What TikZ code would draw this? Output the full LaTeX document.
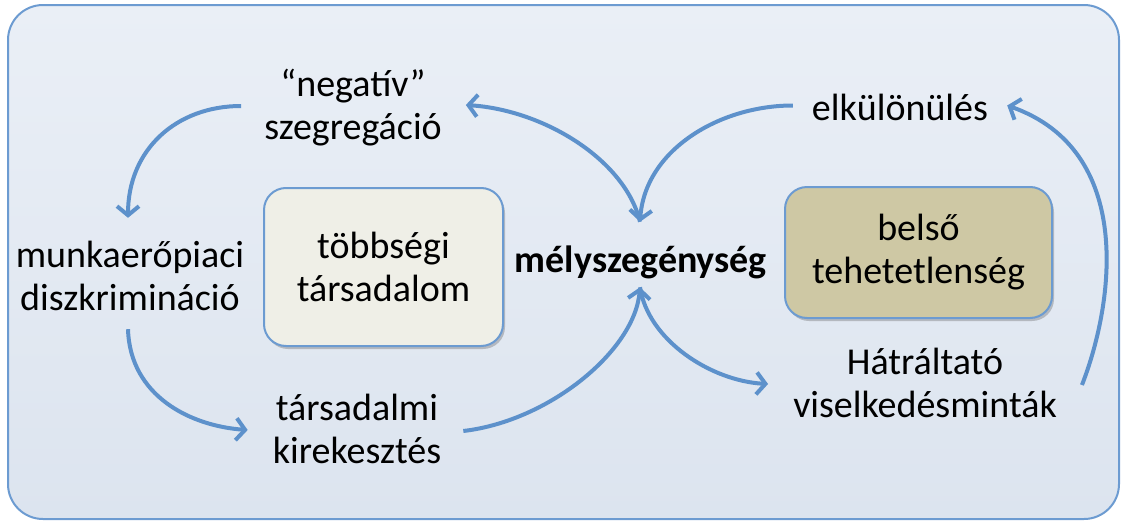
\documentclass[tikz,border=0pt]{standalone}
\usepackage{fontspec}
\setmainfont{Carlito}
\usepackage{tikz}
\usetikzlibrary{arrows.meta,shadows}
\definecolor{arrowblue}{HTML}{5D91CB}
\definecolor{frameblue}{HTML}{6C9BD1}
\definecolor{bgtop}{HTML}{EAEFF6}
\definecolor{bgbot}{HTML}{DCE4EF}
\definecolor{cream}{HTML}{EFEFE7}
\definecolor{khaki}{HTML}{CEC8A4}

\begin{document}
\begin{tikzpicture}[x=1pt,y=-1pt,
	txt/.style={align=center, anchor=base, inner sep=0pt, text height=28pt, text depth=9pt},
	txttwo/.style={txt, text height=71pt},
	box/.style={draw=frameblue, line width=2pt, rounded corners=22pt, align=center,
		drop shadow={shadow xshift=2pt, shadow yshift=-3pt, opacity=0.3, fill=black!70}},
	flow/.style={draw=arrowblue, line width=4pt, -{Straight Barb[length=9pt,width=22pt]}}]
			\fontsize{38}{43}\selectfont
			\useasboundingbox (0,0) rectangle (1127,522);
			\shade [top color=bgtop, bottom color=bgbot, draw=frameblue, line width=2pt, rounded corners=35pt] (8,5) rectangle (1119,519);
			\node [box, fill=cream, minimum width=239pt, minimum height=158pt] (tobb) at (383.5,267) {többségi\\társadalom};
			\node [box, fill=khaki, minimum width=267pt, minimum height=131pt] (belso) at (918.5,252.5) {belső\\tehetetlenség};
			\node [txttwo] (neg) at (353,139) {“negatív”\\szegregáció};
			\node [txttwo] (munka) at (130,310) {munkaerőpiaci\\diszkrimináció};
			\node [txttwo] (tars) at (357,463) {társadalmi\\kirekesztés};
			\node [txt, font=\bfseries] (mely) at (641,272) {mélyszegénység};
			\node [txt] (elk) at (900,120) {elkülönülés};
			\node [txttwo] (hatr) at (925,417) {Hátráltató\\viselkedésminták};
			\draw [flow] ([shift={(-23,-2)}]neg.west) .. controls +(-65,0) and +(0,-68) .. ([shift={(-2,-21)}]munka.north);
			\draw [flow] ([shift={(-2,10)}]munka.south) .. controls +(2,67) and +(-57,-4) .. ([shift={(-25,-2)}]tars.west);
			\draw [flow] ([shift={(22,-1)}]tars.east) .. controls +(86,-10) and +(-5,63) .. ([shift={(-1,6)}]mely.south);
			\draw [flow] ([shift={(-1,6)}]mely.south) .. controls +(8,53) and +(-57,-3) .. ([shift={(-25,-2)}]hatr.west);
			\draw [flow] ([shift={(-1,-22)}]mely.north) .. controls +(-15,-62) and +(78,5) .. ([shift={(24,-3)}]neg.east);
			\draw [flow] ([shift={(-19,-5)}]elk.west) .. controls +(-73,0) and +(5,-72) .. ([shift={(-1,-22)}]mely.north);
			\draw [flow] ([shift={(25,-1)}]hatr.east) .. controls +(32,-82) and +(128,45) .. ([shift={(19,-5)}]elk.east);
\end{tikzpicture}
\end{document}
